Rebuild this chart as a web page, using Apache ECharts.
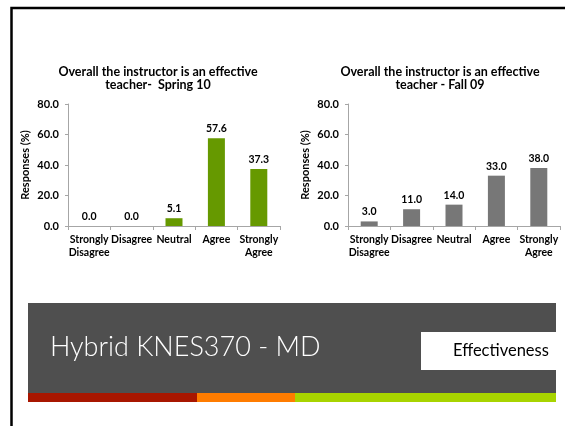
<!DOCTYPE html>
<html>
<head>
<meta charset="utf-8">
<script src="https://cdn.jsdelivr.net/npm/echarts@6/dist/echarts.min.js"></script>
<style>
  html, body { margin: 0; padding: 0; background: #fff; }
  #chart { width: 565px; height: 426px; }
</style>
</head>
<body>
<div id="chart"></div>
<script>
// categories and values
var categories = ['Strongly\nDisagree', 'Disagree', 'Neutral', 'Agree', 'Strongly\nAgree'];
var spring10 = [0.0, 0.0, 5.1, 57.6, 37.3];
var fall09 = [3.0, 11.0, 14.0, 33.0, 38.0];
var titleSpring = 'Overall the instructor is an effective\nteacher-  Spring 10';
var titleFall = 'Overall the instructor is an effective\nteacher - Fall 09';
var yName = 'Responses (%)';

var font = 'Lato, "Liberation Sans", sans-serif';
var chart = echarts.init(document.getElementById('chart'));

function xAxisFor(idx) {
  return {
    type: 'category',
    gridIndex: idx,
    data: categories,
    axisLine: {lineStyle: {color: '#a6a6a6', width: 1}},
    axisTick: {show: true, length: 4, lineStyle: {color: '#a6a6a6'}},
    axisLabel: {
      interval: 0, margin: 7, color: '#000', fontFamily: font,
      fontWeight: 'bold', fontSize: 10.5, lineHeight: 13
    }
  };
}

function yAxisFor(idx) {
  return {
    type: 'value',
    gridIndex: idx,
    min: 0, max: 80, interval: 20,
    name: yName,
    nameLocation: 'middle',
    nameGap: 37,
    nameTextStyle: {color: '#000', fontFamily: font, fontSize: 11, fontWeight: 'bold'},
    axisLine: {show: true, lineStyle: {color: '#a6a6a6', width: 1}},
    axisTick: {show: true, length: 3, lineStyle: {color: '#a6a6a6'}},
    splitLine: {show: false},
    axisLabel: {
      margin: 9, color: '#000', fontFamily: font, fontWeight: 'bold', fontSize: 11,
      formatter: function (v) { return v.toFixed(1); }
    }
  };
}

function barSeries(idx, data, color) {
  return {
    type: 'bar',
    xAxisIndex: idx,
    yAxisIndex: idx,
    data: data,
    barWidth: 17,
    itemStyle: {color: color},
    label: {
      show: true, position: 'top', distance: 4,
      color: '#000', fontFamily: font, fontWeight: 'bold', fontSize: 10.5,
      formatter: function (p) { return p.value.toFixed(1); }
    }
  };
}

var titleStyle = {fontFamily: font, fontWeight: 'bold', fontSize: 12.5, lineHeight: 13, color: '#000'};

var option = {
  animation: false,
  backgroundColor: '#fff',
  title: [
    {text: titleSpring, left: 153, top: 60, textAlign: 'center', textStyle: titleStyle},
    {text: titleFall, left: 435, top: 60, textAlign: 'center', textStyle: titleStyle}
  ],
  grid: [
    {left: 68, top: 104, width: 212, height: 122},
    {left: 348, top: 104, width: 212, height: 122}
  ],
  xAxis: [xAxisFor(0), xAxisFor(1)],
  yAxis: [yAxisFor(0), yAxisFor(1)],
  series: [
    barSeries(0, spring10, '#669900'),
    barSeries(1, fall09, '#777777')
  ],
  graphic: [
    // slide frame
    {type: 'rect', z: 100, silent: true,
      shape: {x: 11.5, y: 8, width: 700, height: 600},
      style: {fill: null, stroke: '#000', lineWidth: 2.5}},
    // title banner
    {type: 'rect', shape: {x: 28, y: 303, width: 528, height: 90}, style: {fill: '#4f4f4f'}},
    {type: 'rect', shape: {x: 28, y: 393, width: 169, height: 9}, style: {fill: '#a81600'}},
    {type: 'rect', shape: {x: 197, y: 393, width: 98, height: 9}, style: {fill: '#ff7c00'}},
    {type: 'rect', shape: {x: 295, y: 393, width: 261, height: 9}, style: {fill: '#a8d400'}},
    {type: 'rect', shape: {x: 421, y: 332, width: 150, height: 38}, style: {fill: '#fff'}},
    {type: 'text', left: 50, top: 334,
      style: {text: 'Hybrid KNES370 - MD', fill: '#fff', font: '300 27px Lato, "Open Sans", sans-serif'}},
    {type: 'text', left: 453, top: 342,
      style: {text: 'Effectiveness', fill: '#000', font: '16.5px Lato, "Open Sans", sans-serif'}}
  ]
};
chart.setOption(option);
</script>
</body>
</html>
